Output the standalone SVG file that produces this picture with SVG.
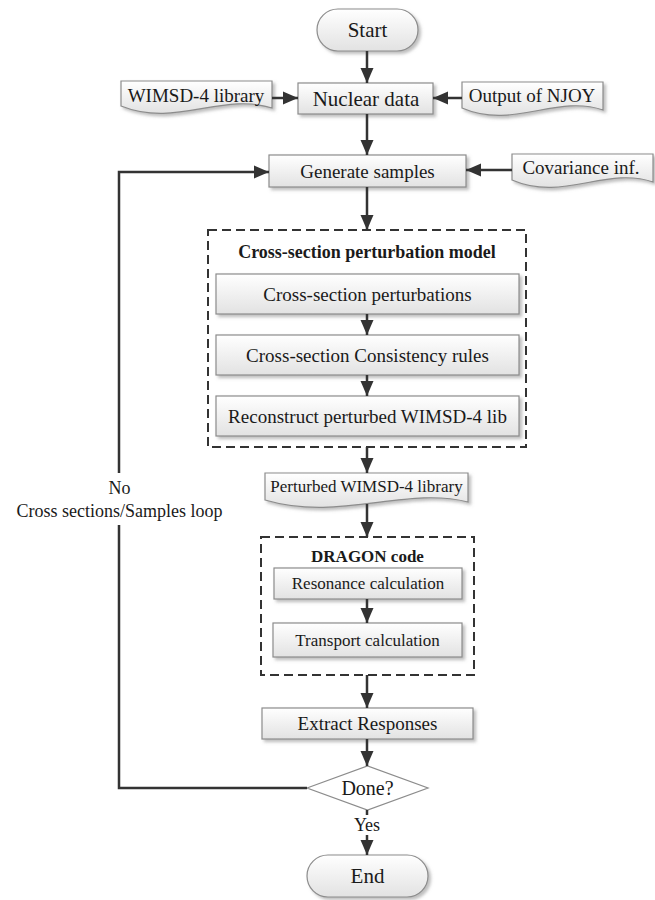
<svg xmlns="http://www.w3.org/2000/svg" width="655" height="900" viewBox="0 0 655 900">
<style>
text{font-family:"Liberation Serif","Times New Roman",serif;fill:#1a1a1a;text-anchor:middle;dominant-baseline:central}
.box{fill:url(#g);stroke:#8c8c8c;stroke-width:1.2;filter:url(#sh)}
.dash{fill:none;stroke:#333;stroke-width:2;stroke-dasharray:9,5}
.c{fill:none;stroke:#333;stroke-width:2.5}
.dia{fill:#fff;stroke:#8c8c8c;stroke-width:1.2}
.b{font-weight:bold}
</style>
<defs>
<linearGradient id="g" x1="0" y1="0" x2="0" y2="1">
<stop offset="0" stop-color="#ffffff"/>
<stop offset="1" stop-color="#e2e2e2"/>
</linearGradient>
<filter id="sh" x="-10%" y="-20%" width="130%" height="150%">
<feDropShadow dx="2.5" dy="2.5" stdDeviation="1.5" flood-color="#888" flood-opacity="0.55"/>
</filter>
<marker id="ah" markerUnits="userSpaceOnUse" markerWidth="16" markerHeight="16" viewBox="0 0 16 16" refX="15" refY="8" orient="auto">
<path d="M0,1.5 L15,8 L0,14.5 Z" fill="#333"/>
</marker>
</defs>

<g id="start"><rect class="box" x="317" y="9" width="101" height="42" rx="21"/><text x="367.5" y="30" font-size="21">Start</text></g>
<g id="wimsd"><path class="box" d="M121,81 H272 V108 C222,92 176,128 121,106 Z"/><text x="196" y="95" font-size="19">WIMSD-4 library</text></g>
<g id="nuclear"><rect class="box" x="298" y="83" width="135" height="31"/><text x="366" y="98.5" font-size="21">Nuclear data</text></g>
<g id="njoy"><path class="box" d="M462,82 H603 V110 C556,94 513,130 462,108 Z"/><text x="532" y="95" font-size="19">Output of NJOY</text></g>
<g id="generate"><rect class="box" x="269" y="155" width="197" height="32"/><text x="367.5" y="171" font-size="19">Generate samples</text></g>
<g id="covariance"><path class="box" d="M512,154 H653 V182 C606,166 563,202 512,180 Z"/><text x="581" y="167" font-size="19">Covariance inf.</text></g>

<g id="xsmodel">
<rect class="dash" x="208" y="230" width="318" height="217"/>
<text class="b" x="367" y="252" font-size="18">Cross-section perturbation model</text>
</g>
<g id="xsperturb"><rect class="box" x="216" y="274" width="303" height="40"/><text x="367.5" y="294" font-size="19">Cross-section perturbations</text></g>
<g id="xsrules"><rect class="box" x="216" y="335" width="303" height="40"/><text x="367.5" y="355" font-size="19">Cross-section Consistency rules</text></g>
<g id="reconstruct"><rect class="box" x="216" y="396" width="303" height="40"/><text x="367.5" y="416" font-size="19">Reconstruct perturbed WIMSD-4 lib</text></g>

<g id="perturbedlib"><path class="box" d="M265,473 H468 V502 C405,486 340,522 265,500 Z"/><text x="366.5" y="486" font-size="17">Perturbed WIMSD-4 library</text></g>

<g id="dragon">
<rect class="dash" x="261" y="537" width="213" height="138"/>
<text class="b" x="367.5" y="556" font-size="17">DRAGON code</text>
</g>
<g id="resonance"><rect class="box" x="274" y="568" width="188" height="31"/><text x="368" y="583.5" font-size="17">Resonance calculation</text></g>
<g id="transport"><rect class="box" x="273" y="623" width="189" height="34"/><text x="367.5" y="640" font-size="17">Transport calculation</text></g>

<g id="extract"><rect class="box" x="262" y="708" width="211" height="31"/><text x="367.5" y="723.5" font-size="19">Extract Responses</text></g>
<g id="done"><path class="dia" d="M307,788 L367.5,766 L428,788 L367.5,810 Z"/><text x="367.5" y="788" font-size="20">Done?</text></g>
<g id="end"><rect class="box" x="307" y="855" width="121" height="42" rx="21"/><text x="367.5" y="876" font-size="21">End</text></g>

<g id="connectors">
<path class="c" d="M367,51 V83" marker-end="url(#ah)"/>
<path class="c" d="M272,98 H298" marker-end="url(#ah)"/>
<path class="c" d="M462,98 H433" marker-end="url(#ah)"/>
<path class="c" d="M367,114 V155" marker-end="url(#ah)"/>
<path class="c" d="M512,170 H466" marker-end="url(#ah)"/>
<path class="c" d="M367,187 V230" marker-end="url(#ah)"/>
<path class="c" d="M367,314 V335" marker-end="url(#ah)"/>
<path class="c" d="M367,375 V396" marker-end="url(#ah)"/>
<path class="c" d="M367,447 V473" marker-end="url(#ah)"/>
<path class="c" d="M367,504 V537" marker-end="url(#ah)"/>
<path class="c" d="M367,599 V623" marker-end="url(#ah)"/>
<path class="c" d="M367,675 V708" marker-end="url(#ah)"/>
<path class="c" d="M367,739 V766" marker-end="url(#ah)"/>
<path class="c" d="M367,810 V815"/>
<path class="c" d="M367,835 V855" marker-end="url(#ah)"/>
<path class="c" d="M307,788 H119 V525"/>
<path class="c" d="M119,473 V172 H269" marker-end="url(#ah)"/>
<text x="367" y="825" font-size="18">Yes</text>
<text x="119.5" y="488" font-size="18">No</text>
<text x="119.5" y="511" font-size="18">Cross sections/Samples loop</text>
</g>
</svg>
